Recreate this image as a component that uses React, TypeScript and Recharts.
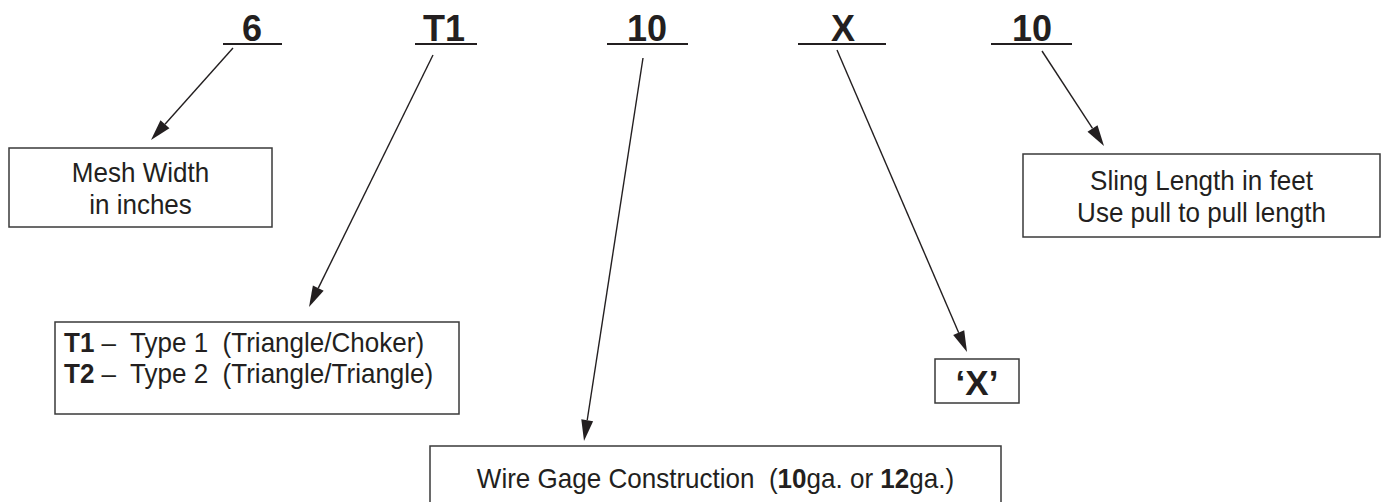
import React from 'react';
import {
  ComposedChart,
  XAxis,
  YAxis,
  Scatter,
  ReferenceLine,
  ReferenceArea,
} from 'recharts';

const W = 1383;
const H = 502;
const INK = '#231f20';
const FONT = '"Liberation Sans", Arial, Helvetica, sans-serif';

// part number codes along the top
const codeLabels = ['6', 'T1', '10', 'X', '10'];
const codeX = [252, 444, 647, 843, 1032];
const codeY = [41, 41, 41, 41, 41];
const underlineFrom = [223, 415, 607, 798, 991];
const underlineTo = [282, 477, 688, 886, 1072];
const underlineY = 44;

// leader arrows, code -> description box
const arrowFromX = [233, 433, 643, 837, 1042];
const arrowFromY = [48, 55, 58, 50, 51];
const arrowToX = [151, 309, 584, 967, 1104];
const arrowToY = [140, 307, 441, 352, 146];

// description boxes
type Run = { t: string; b?: boolean };
const boxLeft = [9, 55, 430, 935, 1023];
const boxRight = [272, 459, 1001, 1019, 1380];
const boxTop = [148, 322, 446, 359, 154];
const boxBottom = [227, 414, 515, 403, 237];
const boxAlign = ['middle', 'start', 'middle', 'middle', 'middle'];
const boxLines: Run[][][] = [
  [[{ t: 'Mesh Width' }], [{ t: 'in inches' }]],
  [
    [{ t: 'T1', b: true }, { t: ' –  Type 1  (Triangle/Choker)' }],
    [{ t: 'T2', b: true }, { t: ' –  Type 2  (Triangle/Triangle)' }],
  ],
  [[
    { t: 'Wire Gage Construction  (' },
    { t: '10', b: true },
    { t: 'ga. or ' },
    { t: '12', b: true },
    { t: 'ga.)' },
  ]],
  [[{ t: '‘X’', b: true }]],
  [[{ t: 'Sling Length in feet' }], [{ t: 'Use pull to pull length' }]],
];

const codeData = codeLabels.map((label, i) => ({ x: codeX[i], y: codeY[i], label }));

function CodeText(props: any) {
  const { cx, cy, payload } = props;
  return (
    <text x={cx} y={cy} textAnchor="middle" fontFamily={FONT} fontWeight="bold" fontSize={36} fill={INK}>
      {payload.label}
    </text>
  );
}

function Arrow(props: any) {
  const { x1, y1, x2, y2 } = props;
  const ang = Math.atan2(y2 - y1, x2 - x1);
  const len = 21;
  const half = 6;
  const bx = x2 - len * Math.cos(ang);
  const by = y2 - len * Math.sin(ang);
  const px = -Math.sin(ang) * half;
  const py = Math.cos(ang) * half;
  return (
    <g>
      <line x1={x1} y1={y1} x2={bx} y2={by} stroke={INK} strokeWidth={1.4} />
      <polygon points={`${x2},${y2} ${bx + px},${by + py} ${bx - px},${by - py}`} fill={INK} />
    </g>
  );
}

function makeBox(i: number) {
  return (props: any) => {
    const { x, y, width, height } = props;
    const lines = boxLines[i];
    const align = boxAlign[i];
    const isX = i === 3;
    const fs = isX ? 35 : 28;
    const lh = i === 1 ? 31 : 32;
    let firstY = y + height / 2 - ((lines.length - 1) * lh) / 2 + fs * 0.36;
    if (i === 1) firstY = y + 30;
    if (i === 2) firstY = y + 42;
    if (isX) firstY = y + 36;
    const tx = align === 'start' ? x + 9 : x + width / 2;
    const sx = isX ? 1 : 0.93;
    return (
      <g>
        <rect x={x} y={y} width={width} height={height} fill="#fff" stroke="#3a3a3a" strokeWidth={1.5} />
        {lines.map((runs, li) => (
          <text
            key={li}
            transform={`translate(${tx},${firstY + li * lh}) scale(${sx},1)`}
            x={0}
            y={0}
            textAnchor={align}
            fontFamily={FONT}
            fontSize={fs}
            fill={INK}
            style={{ whiteSpace: 'pre' }}
          >
            {runs.map((r, ri) => (
              <tspan key={ri} fontWeight={r.b || isX ? 'bold' : 'normal'}>
                {r.t}
              </tspan>
            ))}
          </text>
        ))}
      </g>
    );
  };
}

export default function App() {
  return (
    <div style={{ width: W, height: H, background: '#fff', overflow: 'hidden' }}>
      <style>{'body{margin:0}'}</style>
      <ComposedChart width={W} height={H} data={codeData} margin={{ top: 0, right: 0, bottom: 0, left: 0 }}>
        <XAxis type="number" dataKey="x" domain={[0, W]} hide allowDataOverflow />
        <YAxis type="number" dataKey="y" domain={[0, H]} reversed hide allowDataOverflow />
        {codeLabels.map((_, i) => (
          <ReferenceLine
            key={`ul-${i}`}
            segment={[
              { x: underlineFrom[i], y: underlineY },
              { x: underlineTo[i], y: underlineY },
            ]}
            stroke={INK}
            strokeWidth={2}
          />
        ))}
        {arrowFromX.map((_, i) => (
          <ReferenceLine
            key={`ar-${i}`}
            segment={[
              { x: arrowFromX[i], y: arrowFromY[i] },
              { x: arrowToX[i], y: arrowToY[i] },
            ]}
            shape={Arrow}
          />
        ))}
        {boxLeft.map((_, i) => (
          <ReferenceArea
            key={`bx-${i}`}
            x1={boxLeft[i]}
            x2={boxRight[i]}
            y1={boxTop[i]}
            y2={boxBottom[i]}
            ifOverflow="visible"
            shape={makeBox(i)}
          />
        ))}
        <Scatter dataKey="y" data={codeData} shape={CodeText} isAnimationActive={false} />
      </ComposedChart>
    </div>
  );
}
